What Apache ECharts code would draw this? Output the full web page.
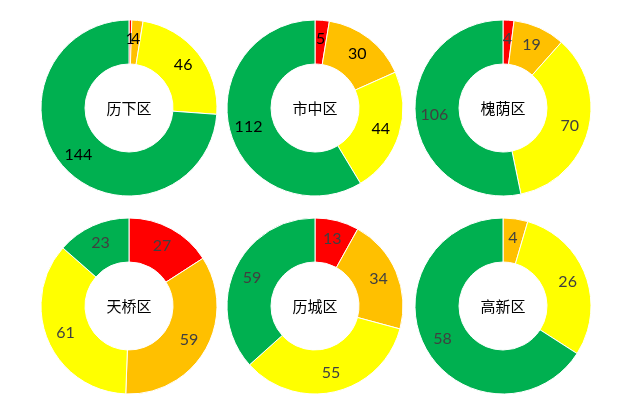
<!DOCTYPE html>
<html><head><meta charset="utf-8">
<script src="https://cdn.jsdelivr.net/npm/echarts@6/dist/echarts.min.js"></script>
<style>html,body{margin:0;padding:0;background:#fff}#c{width:635px;height:416px}</style>
</head><body><div id="c"></div>
<script>
const districts = ['历下区', '市中区', '槐荫区', '天桥区', '历城区', '高新区'];
const levels = ['红', '橙', '黄', '绿'];
const redValues = [1, 5, 4, 27, 13, 0];
const orangeValues = [4, 30, 19, 59, 34, 4];
const yellowValues = [46, 44, 70, 61, 55, 26];
const greenValues = [144, 112, 106, 23, 59, 58];
const colors = ['#FF0000', '#FFC000', '#FFFF00', '#00B050'];
const labelColors = ['#000000', '#000000', '#404040', '#404040', '#404040', '#404040'];
const centers = [[129, 108], [315, 108], [503, 108], [129, 306], [315, 306], [503, 306]];

const series = [];
districts.forEach((d, i) => {
  const vals = [redValues[i], orangeValues[i], yellowValues[i], greenValues[i]];
  const data = [];
  vals.forEach((v, k) => {
    if (v > 0) data.push({ name: levels[k], value: v, itemStyle: { color: colors[k] } });
  });
  series.push({
    type: 'pie', name: d, center: centers[i], radius: [44, 88],
    startAngle: 90, clockwise: true, silent: true, animation: false,
    avoidLabelOverlap: false, minShowLabelAngle: 0,
    labelLayout: { hideOverlap: false },
    itemStyle: { borderColor: '#fff', borderWidth: 1 },
    label: { show: true, position: 'inside', formatter: '{c}', color: labelColors[i],
      fontFamily: 'Lato', fontSize: 16 },
    labelLine: { show: false },
    data: data
  });
  series.push({
    type: 'pie', name: d + '-c', center: centers[i], radius: [0, 43],
    silent: true, animation: false,
    itemStyle: { color: '#fff' },
    label: { show: true, position: 'center', formatter: d, color: '#000',
      fontFamily: 'Noto Sans CJK SC', fontSize: 15 },
    labelLine: { show: false },
    data: [{ name: d, value: 1 }]
  });
});

const chart = echarts.init(document.getElementById('c'), null, { renderer: 'canvas' });
chart.setOption({ backgroundColor: '#fff', animation: false, series: series });
</script></body></html>
